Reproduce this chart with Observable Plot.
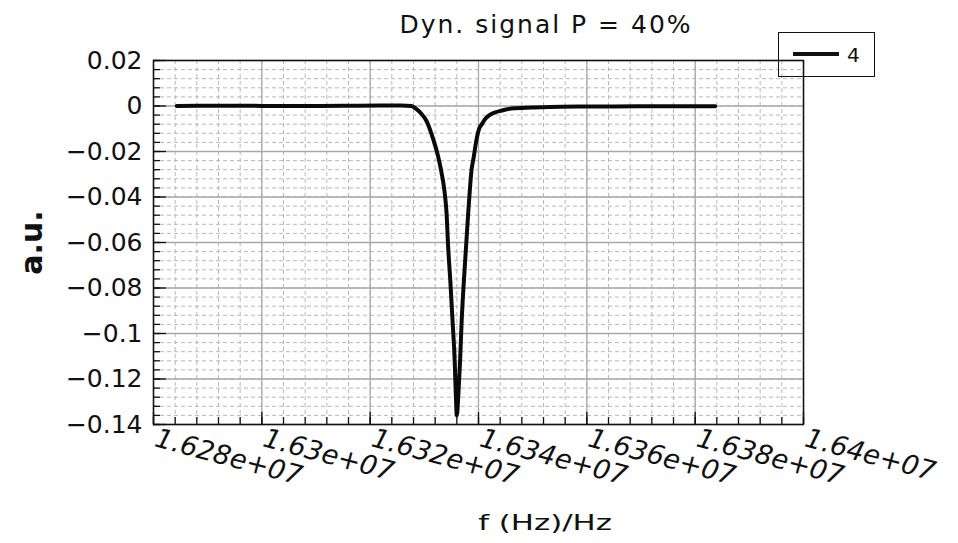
<!DOCTYPE html>
<html><head><meta charset="utf-8">
<script src="https://cdn.jsdelivr.net/npm/d3@7"></script>
<script src="https://cdn.jsdelivr.net/npm/@observablehq/plot@0.6"></script>
<style>
body{margin:0;background:#fff;}
#wrap{position:relative;width:958px;height:543px;font-family:"DejaVu Sans",sans-serif;color:#111;}
#wrap svg{position:absolute;left:0;top:0;}
.ov{position:absolute;white-space:nowrap;line-height:1;}
#title{left:546px;top:12px;font-size:25px;letter-spacing:2px;transform:translateX(-50%);}
#xlabel{left:545px;top:512px;font-size:22px;transform:translateX(-50%) scaleX(1.4);transform-origin:50% 50%;}
#legend{left:778px;top:32px;width:97px;height:45px;box-sizing:border-box;border:1.5px solid #111;}
#legend .sw{position:absolute;left:14px;top:19px;width:46px;height:3.5px;background:#111;}
#legend .lb{position:absolute;left:68px;top:12px;font-size:20px;}
</style></head><body>
<div id="wrap">
  <div id="title" class="ov"></div>
  <div id="xlabel" class="ov"></div>
  <div id="legend" class="ov"><span class="sw"></span><span class="lb"></span></div>
</div>
<script>
// ---- data ----
const freqHz = [16284300, 16295000, 16305000, 16315000, 16322000, 16325700, 16327600, 16328500,
  16329400, 16330400, 16331300, 16332000, 16332600, 16333100, 16333700, 16334100, 16334400,
  16334800, 16335200, 16335600, 16335800, 16336000, 16336300, 16336600, 16336900, 16337300,
  16337700, 16338100, 16338400, 16338700, 16339100, 16339600, 16340200, 16340600, 16341300,
  16341900, 16343000, 16344300, 16346100, 16349800, 16355400, 16365000, 16375000, 16383700];
const signal = [0.0000, 0.0001, 0.0000, 0.0001, 0.0002, 0.0002, 0.0000, -0.0013,
  -0.0033, -0.0066, -0.0121, -0.0174, -0.0227, -0.0284, -0.0370, -0.0470, -0.0620,
  -0.0770, -0.0940, -0.1120, -0.1260, -0.1360, -0.1260, -0.1120, -0.0940, -0.0770,
  -0.0620, -0.0470, -0.0370, -0.0284, -0.0227, -0.0152, -0.0095, -0.0081, -0.0055,
  -0.0042, -0.0029, -0.0020, -0.0011, -0.0007, -0.0003, -0.0002, -0.0001, -0.0001];
const seriesName = "4";
const titleText = "Dyn. signal P = 40%";
const xLabelText = "f (Hz)/Hz";
const yLabelText = "a.u.";
const xTicks = [16280000, 16300000, 16320000, 16340000, 16360000, 16380000, 16400000];
const xTickLabels = ["1.628e+07", "1.63e+07", "1.632e+07", "1.634e+07", "1.636e+07", "1.638e+07", "1.64e+07"];
const yTicks = [-0.14, -0.12, -0.1, -0.08, -0.06, -0.04, -0.02, 0, 0.02];
const yTickLabels = ["−0.14", "−0.12", "−0.1", "−0.08", "−0.06", "−0.04", "−0.02", "0", "0.02"];

const xDomain = [16280000, 16400000];
const yDomain = [-0.14, 0.02];
const xMinor = d3.range(0, 31).map(i => xDomain[0] + i * 4000);
const yMinor = d3.range(0, 41).map(i => yDomain[0] + i * 0.004);

const data = freqHz.map((f, i) => ({f, v: signal[i]}));
const yLab = new Map(yTicks.map((t, i) => [t, yTickLabels[i]]));

const plot = Plot.plot({
  width: 958, height: 543,
  marginTop: 60, marginBottom: 119, marginLeft: 153, marginRight: 155,
  x: {domain: xDomain},
  y: {domain: yDomain},
  style: {fontFamily: "DejaVu Sans, sans-serif", background: "transparent", color: "#111"},
  marks: [
    Plot.gridX(xMinor, {stroke: "#b8b8b8", strokeOpacity: 1, strokeDasharray: "4,3", strokeWidth: 1}),
    Plot.gridY(yMinor, {stroke: "#b8b8b8", strokeOpacity: 1, strokeDasharray: "4,3", strokeWidth: 1}),
    Plot.gridX(xTicks, {stroke: "#a8a8a8", strokeOpacity: 1, strokeWidth: 1.3}),
    Plot.gridY(yTicks, {stroke: "#a8a8a8", strokeOpacity: 1, strokeWidth: 1.3}),
    Plot.line(data, {x: "f", y: "v", stroke: "#0a0a0a", strokeWidth: 4, curve: "monotone-x"}),
    Plot.frame({stroke: "#111", strokeWidth: 1.5}),
    // inward ticks
    Plot.ruleY(yMinor, {x1: xDomain[0], x2: xDomain[0], insetRight: -7, stroke: "#111", strokeWidth: 1.3}),
    Plot.ruleY(yTicks, {x1: xDomain[0], x2: xDomain[0], insetRight: -13, stroke: "#111", strokeWidth: 1.3}),
    Plot.ruleX(xMinor, {y1: yDomain[0], y2: yDomain[0], insetTop: -7, stroke: "#111", strokeWidth: 1.3}),
    Plot.ruleX(xTicks, {y1: yDomain[0], y2: yDomain[0], insetTop: -12, stroke: "#111", strokeWidth: 1.3}),
    Plot.axisY(yTicks, {anchor: "left", tickSize: 0, tickPadding: 11, fontSize: 25, tickFormat: d => yLab.get(d), label: null}),
    Plot.axisX({ticks: [], label: null}),
    Plot.text(xTicks, {x: d => d, frameAnchor: "bottom", text: (d, i) => xTickLabels[i], rotate: 15,
      textAnchor: "start", lineAnchor: "top", dy: 3, dx: 5, fontSize: 27, fontStyle: "italic", fill: "#111"}),
    Plot.text([yLabelText], {frameAnchor: "left", text: d => d, rotate: -90, dx: -121, textAnchor: "middle",
      lineAnchor: "middle", fontSize: 30, fontWeight: "bold", fill: "#111"})
  ]
});
const wrap = document.getElementById("wrap");
wrap.insertBefore(plot, wrap.firstChild);
document.getElementById("title").textContent = titleText;
document.getElementById("xlabel").textContent = xLabelText;
document.querySelector("#legend .lb").textContent = seriesName;
</script>
</body></html>
